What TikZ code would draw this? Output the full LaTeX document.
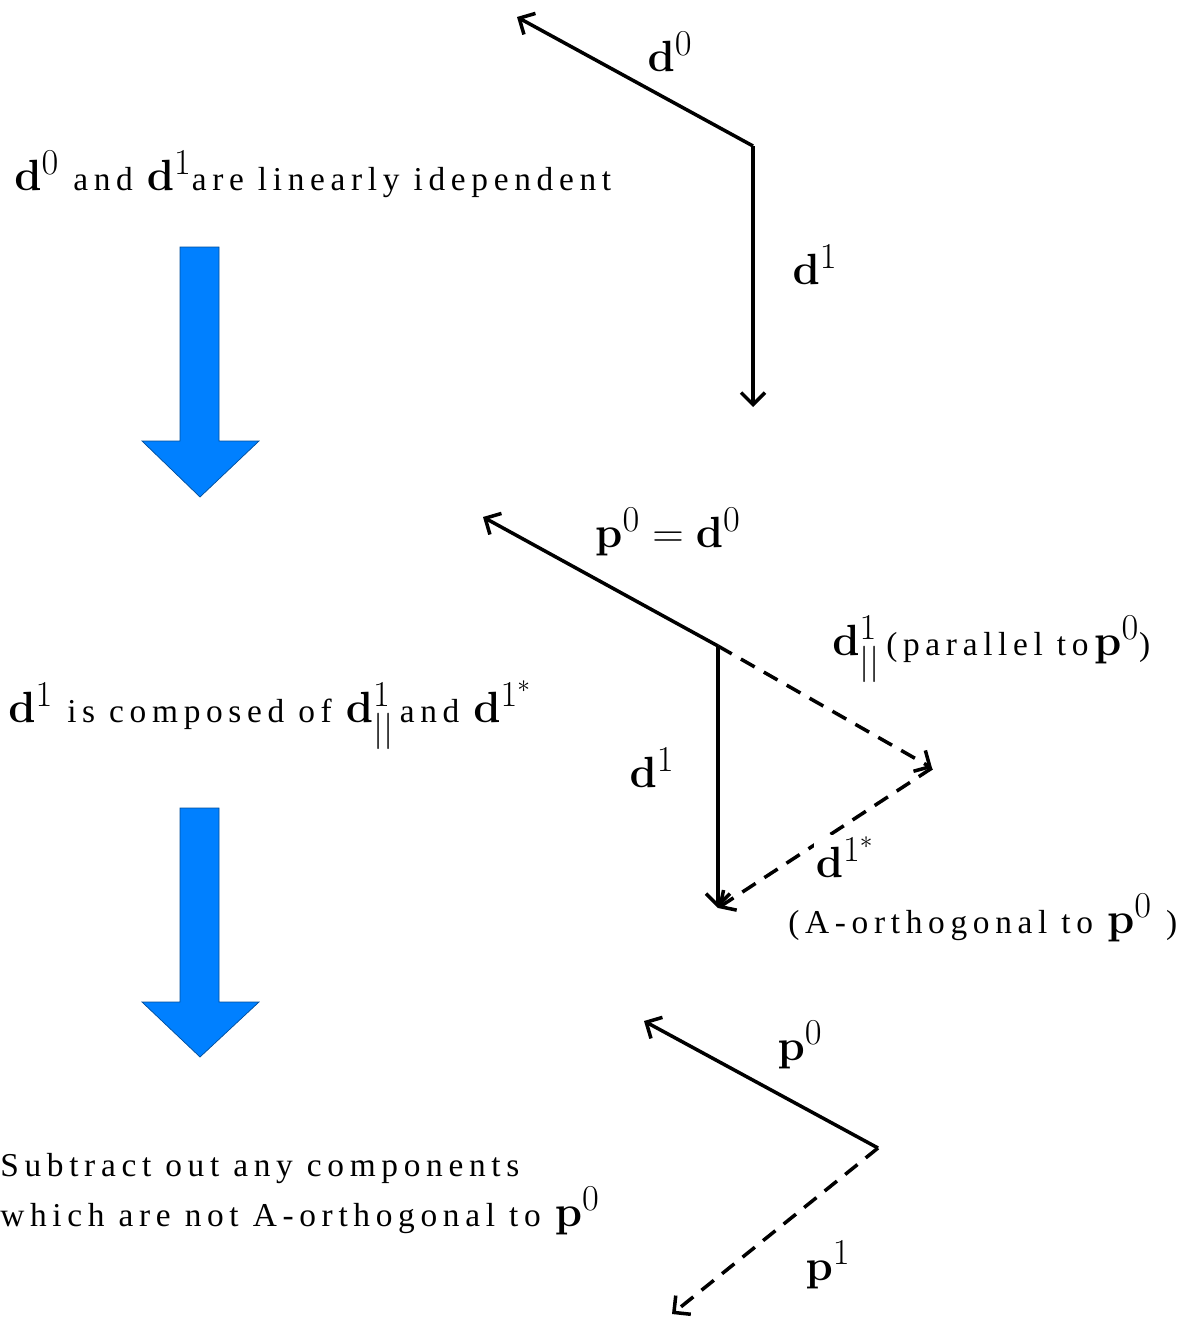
\documentclass[tikz,border=0pt]{standalone}
\usepackage{amsmath}
\usepackage[no-math]{fontspec}
\setmainfont{Liberation Serif}
\newfontfamily\spaced[LetterSpace=17]{Liberation Serif}
\usepackage{xcolor}
\usetikzlibrary{arrows.meta}
\definecolor{arrowblue}{RGB}{0,128,255}
\newcommand{\vlab}{\fontsize{28}{32}\selectfont}
\newcommand{\bv}[1]{{\vlab$#1$}}

\begin{document}
\begin{tikzpicture}[
    x=0.02cm, y=-0.02cm,
    vec/.style={line width=2pt, -{Straight Barb[length=2.4mm,width=4.8mm]}},
    dvec/.style={vec, dash pattern=on 9pt off 6pt},
    lbl/.style={inner sep=1pt, font=\vlab},
    txt/.style={anchor=base west, inner sep=0pt, font=\spaced\fontsize{19}{22}\selectfont},
    bigarrow/.style={fill=arrowblue, draw=arrowblue!60!black, line width=0.4pt},
]
\useasboundingbox (0,0) rectangle (1183,1318);

% Step 1: two independent directions
\coordinate (o1) at (753,146);
\coordinate (d0end) at (517,17);
\coordinate (d1end) at (753,407);
\draw[vec] (o1) -- (d0end);
\draw[vec] (o1) -- (d1end);
\node[lbl] (d0lab) at (670,52) {$\mathbf{d}^0$};
\node[lbl] (d1lab) at (815,265) {$\mathbf{d}^1$};
\node[txt] (text1) at (14,190) {\bv{\mathbf{d}^0} and \bv{\mathbf{d}^1}are linearly idependent};

\fill[bigarrow] (180,247) -- (219,247) -- (219,441) -- (259,441) -- (200,497) -- (142,441) -- (180,441) -- cycle;

% Step 2: split d1
\coordinate (o2) at (718,646);
\coordinate (p0end) at (483,517);
\coordinate (d1bend) at (718,908);
\coordinate (parend) at (932,768);
\draw[vec] (o2) -- (p0end);
\draw[vec] (o2) -- (d1bend);
\draw[dvec] (o2) -- (parend);
\draw[dvec] (parend) -- (d1bend);
\node[lbl] (p0lab) at (668,532) {$\mathbf{p}^0=\mathbf{d}^0$};
\node[lbl] (d1mlab) at (652,768) {$\mathbf{d}^1$};
\node[txt] (parlab) at (832,655) {\bv{\mathbf{d}^1_{||}}\,(parallel to\,\bv{\mathbf{p}^0})};
\node[lbl, fill=white] (starlab) at (845,857) {$\mathbf{d}^{1^*}$};
\node[txt] (orthlab) at (788,933) {(A-orthogonal to \bv{\mathbf{p}^0} )};
\node[txt] (text2) at (8,722) {\bv{\mathbf{d}^1} is composed of \bv{\mathbf{d}^1_{||}}\,and \bv{\mathbf{d}^{1^*}}};

\fill[bigarrow] (180,808) -- (219,808) -- (219,1002) -- (259,1002) -- (200,1057) -- (142,1002) -- (180,1002) -- cycle;

% Step 3: conjugate direction
\coordinate (o3) at (878,1148);
\coordinate (p0bend) at (644,1021);
\coordinate (p1end) at (672,1314);
\draw[vec] (o3) -- (p0bend);
\draw[dvec] (o3) -- (p1end);
\node[lbl] (p0blab) at (800,1045) {$\mathbf{p}^0$};
\node[lbl] (p1lab) at (828,1265) {$\mathbf{p}^1$};
\node[txt] (text3) at (0,1176) {Subtract out any components};
\node[txt] (text4) at (0,1226) {which are not A-orthogonal to \bv{\mathbf{p}^0}};

\end{tikzpicture}
\end{document}
